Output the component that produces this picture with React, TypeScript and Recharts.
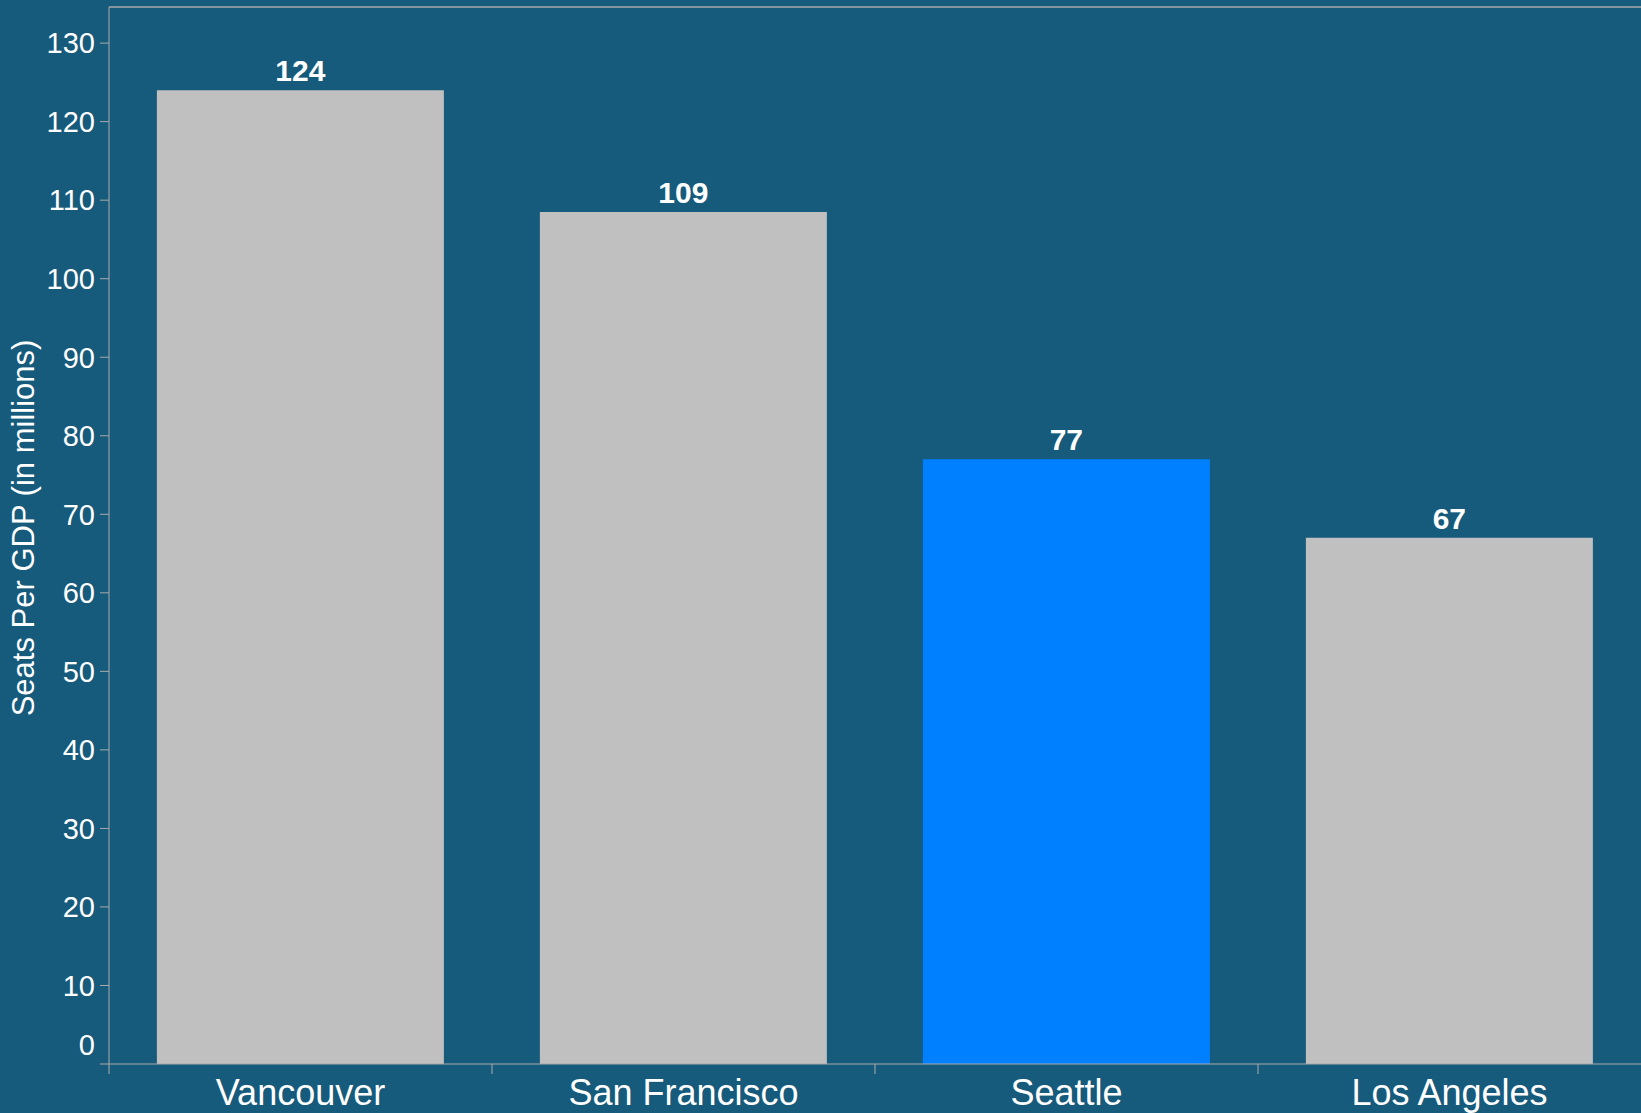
import React from 'react';
import { Bar, BarChart, Cell, LabelList, ReferenceLine, XAxis, YAxis } from 'recharts';

const cities = ['Vancouver', 'San Francisco', 'Seattle', 'Los Angeles'];
const seatsPerGdp = [124, 108.5, 77, 67];
const yTicks = [0, 10, 20, 30, 40, 50, 60, 70, 80, 90, 100, 110, 120, 130];
const yMax = 134.6;
const highlightCity = 'Seattle';

const BG = '#165a7c';
const AXIS = '#aaaaaa';
const FONT = '"Liberation Sans", Arial, Helvetica, sans-serif';

const data = cities.map((city, i) => ({ city, value: seatsPerGdp[i] }));

const CityTick = (props: any) => {
  const { x, y, payload } = props;
  const half = payload && payload.offset ? payload.offset : (1641 - 109) / 8;
  return (
    <g>
      <line x1={x - half} x2={x - half} y1={y - 10} y2={y} stroke={AXIS} strokeWidth={1} />
      <text x={x} y={y + 31} textAnchor="middle" fill="#ffffff" fontSize={36} fontFamily={FONT}>
        {payload.value}
      </text>
    </g>
  );
};

const ValueTick = (props: any) => {
  const { x, y, payload } = props;
  const shift = payload.value === 0 ? -19 : 0;
  return (
    <text x={x} y={y + shift} dy="0.355em" textAnchor="end" fill="#ffffff" fontSize={29} fontFamily={FONT}>
      {payload.value}
    </text>
  );
};

const YTitle = () => (
  <text
    x={34}
    y={528}
    transform="rotate(-90, 34, 528)"
    textAnchor="middle"
    fill="#ffffff"
    fontSize={31}
    fontFamily={FONT}
  >
    Seats Per GDP (in millions)
  </text>
);

export default function App() {
  return (
    <div style={{ position: 'absolute', left: 0, top: 0, width: 1641, height: 1113, background: BG }}>
      <BarChart
        width={1641}
        height={1113}
        data={data}
        margin={{ top: 7, right: 0, bottom: 0, left: 0 }}
        barCategoryGap="12.5%"
      >
        <XAxis
          dataKey="city"
          stroke={AXIS}
          tickLine={false}
          tickSize={10}
          tickMargin={0}
          height={49}
          interval={0}
          tick={<CityTick />}
        />
        <YAxis
          width={109}
          domain={[0, yMax]}
          ticks={yTicks}
          interval={0}
          stroke={AXIS}
          tickSize={9}
          tickMargin={5}
          tick={<ValueTick />}
          label={<YTitle />}
        />
        <ReferenceLine y={yMax} stroke={AXIS} strokeWidth={1.5} ifOverflow="visible" />
        <Bar dataKey="value" isAnimationActive={false}>
          {data.map((d) => (
            <Cell key={d.city} fill={d.city === highlightCity ? '#0080ff' : '#c0c0c0'} />
          ))}
          <LabelList
            dataKey="value"
            position="top"
            offset={9}
            formatter={(v: any) => Math.round(Number(v))}
            fill="#ffffff"
            fontSize={30}
            fontWeight="bold"
            fontFamily={FONT}
          />
        </Bar>
      </BarChart>
    </div>
  );
}
